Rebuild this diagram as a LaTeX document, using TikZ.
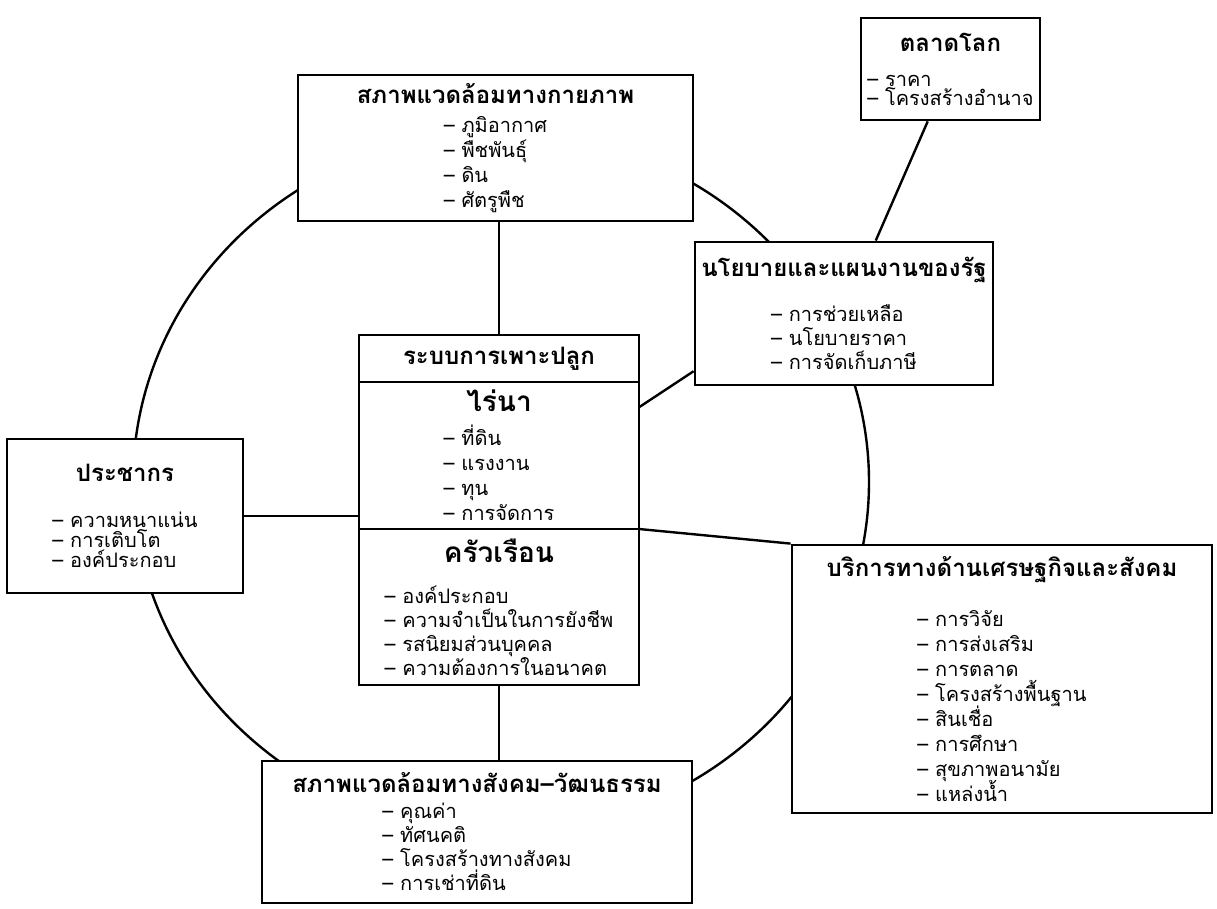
\documentclass[tikz,border=0pt]{standalone}
\usepackage{fontspec}
\newfontfamily\thaifont[Script=Thai]{Loma}
\usetikzlibrary{positioning}
\newcommand{\ttl}[1]{{\bfseries\fontsize{12}{14}\selectfont #1}}
\newcommand{\partttl}[1]{{\bfseries\fontsize{14}{16}\selectfont #1}}
\newcommand{\itemlist}[2][12]{{\fontsize{10}{#1}\selectfont\lineskiplimit=-\maxdimen\vtop{#2}}}
\newcommand{\li}[1]{\hbox{– #1}}

\begin{document}
\begin{tikzpicture}[x=0.5pt,y=-0.5pt,font=\thaifont\fontsize{10}{12}\selectfont,
  box/.style={draw,line width=1.4pt,fill=white,align=center,inner sep=2pt},
  part/.style={box,outer sep=0pt,minimum width=140pt},
  link/.style={line width=1.2pt}]
  \useasboundingbox (0,0) rectangle (1217,909);
  % ring behind the boxes
  \draw[link] (501,482) ellipse [x radius=368,y radius=350];
  \node[box,minimum width=197.5pt,minimum height=73pt] (phys) at (495.5,148)
    {\ttl{สภาพแวดล้อมทางกายภาพ}\\[2.5pt]\itemlist[12.5]{\li{ภูมิอากาศ}\li{พืชพันธุ์}\li{ดิน}\li{ศัตรูพืช}}};
  \node[box,minimum width=89.5pt,minimum height=51pt] (world) at (950.5,69)
    {\ttl{ตลาดโลก}\\[5.5pt]\itemlist[9.5]{\li{ราคา}\li{โครงสร้างอำนาจ}}};
  \node[box,minimum width=149pt,minimum height=71.5pt] (policy) at (844,313.5)
    {\ttl{นโยบายและแผนงานของรัฐ}\\[10.5pt]\itemlist{\li{การช่วยเหลือ}\li{นโยบายราคา}\li{การจัดเก็บภาษี}}};
  % centre: three parts stacked
  \node[part,minimum height=23.5pt] (hdr) at (499,358.5) {\ttl{ระบบการเพาะปลูก}};
  \node[part,minimum height=73.5pt,below=0pt of hdr] (farm)
    {\partttl{ไร่นา}\\[5pt]\itemlist[12.5]{\li{ที่ดิน}\li{แรงงาน}\li{ทุน}\li{การจัดการ}}};
  \node[part,minimum height=78pt,below=0pt of farm] (house)
    {\partttl{ครัวเรือน}\\[8.5pt]\itemlist{\li{องค์ประกอบ}\li{ความจำเป็นในการยังชีพ}\li{รสนิยมส่วนบุคคล}\li{ความต้องการในอนาคต}}};
  \node[box,minimum width=118pt,minimum height=77pt] (pop) at (125,516)
    {\ttl{ประชากร}\\[11pt]\itemlist[10]{\li{ความหนาแน่น}\li{การเติบโต}\li{องค์ประกอบ}}};
  \node[box,minimum width=210pt,minimum height=134pt] (serv) at (1002,679)
    {\ttl{บริการทางด้านเศรษฐกิจและสังคม}\\[13pt]\itemlist[12.5]{\li{การวิจัย}\li{การส่งเสริม}\li{การตลาด}\li{โครงสร้างพื้นฐาน}\li{สินเชื่อ}\li{การศึกษา}\li{สุขภาพอนามัย}\li{แหล่งน้ำ}}};
  \node[box,minimum width=215pt,minimum height=71pt] (social) at (477,832)
    {\ttl{สภาพแวดล้อมทางสังคม–วัฒนธรรม}\\[1pt]\itemlist{\li{คุณค่า}\li{ทัศนคติ}\li{โครงสร้างทางสังคม}\li{การเช่าที่ดิน}}};
  \draw[link] (hdr.north |- phys.south) -- (hdr.north);
  \draw[link] (world) -- (policy);
  \draw[link] (farm.19) -- (policy.201);
  \draw[link] (farm.south east) -- (serv.north west);
  \draw[link] (pop.east) -- (pop.east -| farm.west);
  \draw[link] (house.south) -- (house.south |- social.north);
\end{tikzpicture}
\end{document}
